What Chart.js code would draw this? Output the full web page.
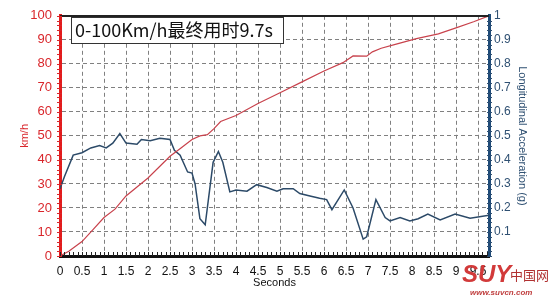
<!DOCTYPE html>
<html>
<head>
<meta charset="utf-8">
<script src="https://cdn.jsdelivr.net/npm/chart.js@4/dist/chart.umd.min.js"></script>
<style>
    html, body { margin: 0; padding: 0; background: #fff; }
    #grafico { display: block; }
</style>
</head>
<body>
<canvas id="grafico" width="550" height="299"></canvas>
<script>
// Dados (velocidade em km/h)
const tempoVelocidade = [0, 0.2, 0.5, 0.75, 1.0, 1.25, 1.5, 2.0, 2.5, 2.75, 3.0, 3.18, 3.35, 3.5, 3.65, 4.0, 4.5, 5.0, 5.5, 6.0, 6.43, 6.66, 6.97, 7.1, 7.3, 7.6, 8.1, 8.6, 9.0, 9.4, 9.75];
const velocidade = [0, 2, 6, 11, 16, 19.5, 25, 32.5, 41.5, 45, 48.5, 50, 50.5, 53, 56, 58.5, 63.5, 68, 72.5, 77, 80.5, 83.3, 83.2, 85, 86.5, 88, 90.5, 92.5, 95, 97.5, 100];

// Aceleração longitudinal (g)
const tempoAceleracao = [0, 0.1, 0.3, 0.5, 0.7, 0.9, 1.05, 1.2, 1.36, 1.5, 1.75, 1.85, 2.05, 2.27, 2.5, 2.6, 2.73, 2.9, 3.0, 3.07, 3.18, 3.3, 3.48, 3.6, 3.7, 3.86, 4.0, 4.25, 4.47, 4.7, 4.93, 5.07, 5.3, 5.45, 5.68, 5.9, 6.06, 6.18, 6.46, 6.66, 6.89, 6.97, 7.18, 7.39, 7.5, 7.73, 7.95, 8.14, 8.36, 8.64, 8.98, 9.32, 9.75];
const aceleracao = [0.28, 0.33, 0.42, 0.43, 0.45, 0.46, 0.45, 0.47, 0.51, 0.47, 0.465, 0.485, 0.48, 0.49, 0.485, 0.44, 0.42, 0.35, 0.345, 0.3, 0.155, 0.13, 0.39, 0.435, 0.39, 0.267, 0.275, 0.27, 0.297, 0.285, 0.27, 0.28, 0.28, 0.26, 0.25, 0.24, 0.235, 0.193, 0.275, 0.2, 0.07, 0.08, 0.235, 0.16, 0.146, 0.16, 0.146, 0.155, 0.175, 0.15, 0.175, 0.157, 0.17];

const tituloCaixa = '0-100Km/h最终用时9.7s';
const tituloX = 'Seconds';
const tituloY = 'km/h';
const tituloY1 = 'Longitudinal Acceleration (g)';

const fonte = "'Liberation Sans', Arial, sans-serif";
const corVermelha = '#d9262b';
const corAzul = '#2f5072';
const corGrade = '#808080';

function montarPontos(xs, ys) {
    return xs.map((x, i) => ({ x: x, y: ys[i] }));
}

// Plugin: caixa do título, borda superior, marcas menores e marca d'água
const decoracao = {
    id: 'decoracao',
    afterDraw(chart) {
        const ctx = chart.ctx;
        const area = chart.chartArea;
        const sx = chart.scales.x;
        const sy = chart.scales.y;
        const sy1 = chart.scales.y1;
        ctx.save();

        // borda superior
        ctx.fillStyle = '#222';
        ctx.fillRect(area.left, Math.round(area.top) - 1, area.right - area.left, 2);

        // marcas menores
        ctx.fillStyle = '#222';
        for (let v = 0; v <= 9.75; v += 0.1) {
            ctx.fillRect(Math.round(sx.getPixelForValue(v)), area.bottom - 4, 1, 4);
        }
        ctx.fillStyle = corVermelha;
        for (let v = 0; v <= 100; v += 2) {
            ctx.fillRect(area.left - 3, Math.round(sy.getPixelForValue(v)), 5, 1);
        }
        ctx.fillStyle = corAzul;
        for (let v = 0; v <= 1; v += 0.02) {
            ctx.fillRect(area.right - 2, Math.round(sy1.getPixelForValue(v)), 5, 1);
        }

        // caixa do título
        ctx.fillStyle = '#fff';
        ctx.fillRect(71, 17, 212, 26);
        ctx.strokeStyle = '#333';
        ctx.lineWidth = 1;
        ctx.strokeRect(71.5, 17.5, 212, 26);
        ctx.fillStyle = '#111';
        ctx.font = "18px 'Noto Sans CJK SC', 'Noto Sans', sans-serif";
        ctx.textBaseline = 'middle';
        ctx.textAlign = 'left';
        ctx.fillText(tituloCaixa, 75, 30);

        // marca d'água
        ctx.textBaseline = 'alphabetic';
        ctx.fillStyle = '#d23a3a';
        ctx.font = "italic bold 24px 'Liberation Sans', Arial, sans-serif";
        ctx.fillText('SUY', 462, 282);
        ctx.fillStyle = '#b03030';
        ctx.font = "13px 'Noto Sans CJK SC', sans-serif";
        ctx.fillText('中国网', 510, 280);
        ctx.fillStyle = '#c04040';
        ctx.font = "italic bold 8px 'Liberation Sans', Arial, sans-serif";
        ctx.fillText('www.suvcn.com', 470, 295);
        ctx.restore();
    }
};

document.addEventListener('DOMContentLoaded', function () {
    const ctx = document.getElementById('grafico').getContext('2d');

    new Chart(ctx, {
        type: 'line',
        data: {
            datasets: [{
                label: 'Velocidade',
                data: montarPontos(tempoVelocidade, velocidade),
                yAxisID: 'y',
                borderColor: '#c8424c',
                borderWidth: 1.2,
                pointRadius: 0,
                tension: 0
            }, {
                label: 'Aceleração',
                data: montarPontos(tempoAceleracao, aceleracao),
                yAxisID: 'y1',
                borderColor: '#2c4a68',
                borderWidth: 1.5,
                pointRadius: 0,
                tension: 0
            }]
        },
        options: {
            responsive: false,
            animation: false,
            layout: { padding: { top: 9, left: 0, right: 0, bottom: 0 } },
            plugins: {
                legend: { display: false },
                tooltip: { enabled: false }
            },
            scales: {
                x: {
                    type: 'linear',
                    min: 0,
                    max: 9.75,
                    ticks: {
                        stepSize: 0.5,
                        includeBounds: false,
                        color: '#111',
                        font: { family: fonte, size: 12 },
                        padding: 8,
                        maxRotation: 0,
                        autoSkip: false,
                        callback: function (v) { return String(Math.round(v * 10) / 10); }
                    },
                    grid: {
                        color: corGrade,
                        lineWidth: 1,
                        drawTicks: false
                    },
                    border: { display: true, color: '#111', width: 3, dash: [4, 3] },
                    title: {
                        display: true,
                        text: tituloX,
                        color: '#111',
                        font: { family: fonte, size: 11 },
                        padding: { top: 0, bottom: 9 }
                    },
                    afterFit(scale) { scale.height = 43; }
                },
                y: {
                    position: 'left',
                    min: 0,
                    max: 100,
                    ticks: {
                        stepSize: 10,
                        color: corVermelha,
                        font: { family: fonte, size: 13 },
                        padding: 8
                    },
                    grid: {
                        color: corGrade,
                        lineWidth: 1,
                        drawTicks: false
                    },
                    border: { display: true, color: '#e31b1b', width: 3, dash: [4, 3] },
                    title: {
                        display: true,
                        text: tituloY,
                        color: corVermelha,
                        font: { family: fonte, size: 11 },
                        padding: { top: 18, bottom: 0 }
                    },
                    afterFit(scale) { scale.width = 60; }
                },
                y1: {
                    position: 'right',
                    min: 0,
                    max: 1,
                    ticks: {
                        stepSize: 0.1,
                        color: corAzul,
                        font: { family: fonte, size: 12 },
                        padding: 5,
                        callback: function (v) { return v === 0 ? '' : Math.round(v * 10) / 10; }
                    },
                    grid: { display: false, drawTicks: false },
                    border: { display: true, color: '#1d4a78', width: 3 },
                    title: {
                        display: true,
                        text: tituloY1,
                        color: corAzul,
                        font: { family: fonte, size: 11 },
                        padding: { top: 21, bottom: 0 }
                    },
                    afterFit(scale) { scale.width = 61; }
                }
            }
        },
        plugins: [decoracao]
    });
});
</script>
</body>
</html>
